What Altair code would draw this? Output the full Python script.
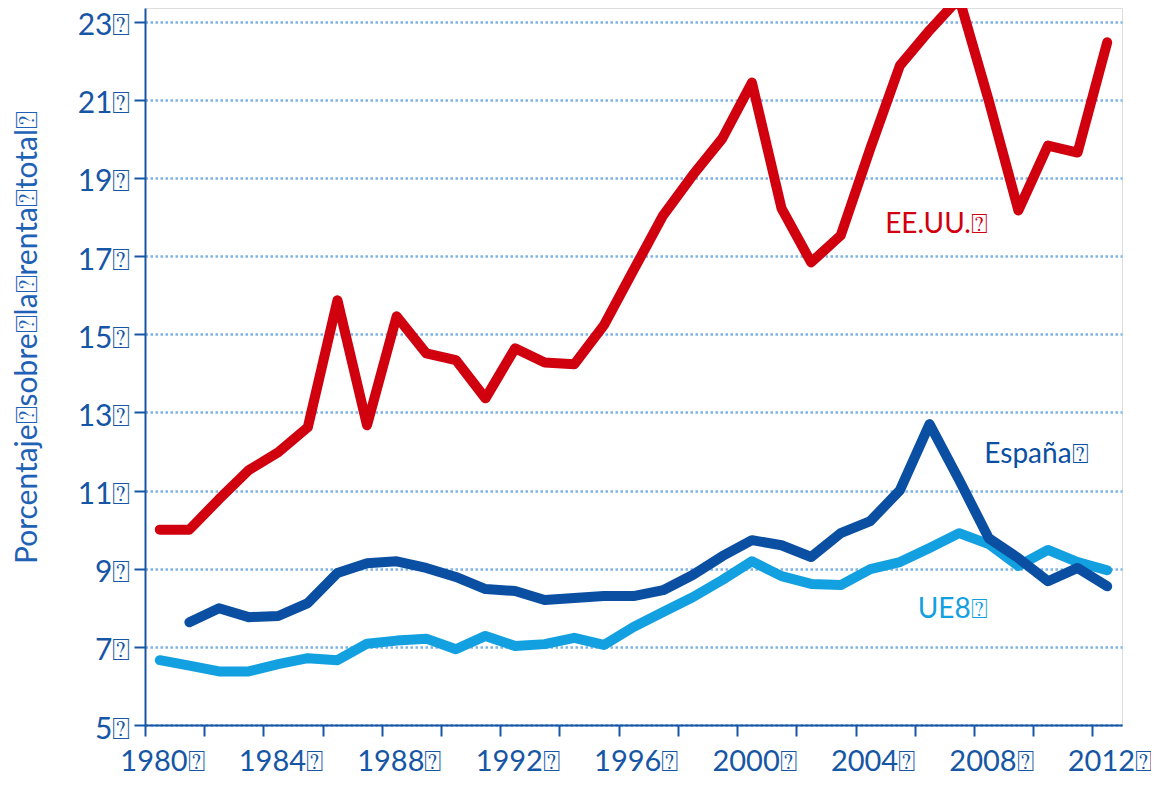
import altair as alt
import pandas as pd

years = list(range(1980, 2013))

eeuu = [10.0, 10.0, 10.78, 11.52, 11.98, 12.62, 15.87, 12.67, 15.46, 14.51,
        14.34, 13.36, 14.64, 14.28, 14.23, 15.23, 16.64, 18.04, 19.07, 20.01,
        21.44, 18.22, 16.84, 17.53, 19.76, 21.88, 22.78, 23.6, 20.98, 18.17,
        19.83, 19.65, 22.47]

espana_years = list(range(1981, 2013))
espana = [7.63, 7.99, 7.76, 7.79, 8.12, 8.89, 9.14, 9.19, 9.02,
          8.79, 8.48, 8.43, 8.20, 8.25, 8.30, 8.30, 8.45, 8.84, 9.32,
          9.73, 9.60, 9.30, 9.91, 10.22, 11.01, 12.70, 11.27, 9.78, 9.27,
          8.68, 9.02, 8.55]

ue8 = [6.66, 6.52, 6.37, 6.37, 6.56, 6.71, 6.66, 7.08, 7.16, 7.21,
       6.94, 7.28, 7.02, 7.07, 7.23, 7.05, 7.51, 7.89, 8.27, 8.71,
       9.19, 8.81, 8.61, 8.58, 8.99, 9.17, 9.53, 9.91, 9.63, 9.07,
       9.48, 9.17, 8.96]

series_names = ["UE8", "España", "EE.UU."]
series_colors = ["#12a0e0", "#0b4fa3", "#d0000f"]

label_text = ["UE8⍰", "España⍰", "EE.UU.⍰"]
label_x = [2005.6, 2007.85, 2004.5]
label_y = [7.94, 11.9, 17.8]

y_ticks = [5, 7, 9, 11, 13, 15, 17, 19, 21, 23]
x_bounds = [1979.5 + i for i in range(34)]

rows = []
for y, v in zip(years, ue8):
    rows.append({"year": y, "value": v, "serie": "UE8"})
for y, v in zip(espana_years, espana):
    rows.append({"year": y, "value": v, "serie": "España"})
for y, v in zip(years, eeuu):
    rows.append({"year": y, "value": v, "serie": "EE.UU."})
df = pd.DataFrame(rows)

labels_df = pd.DataFrame({"text": label_text, "year": label_x, "value": label_y,
                          "serie": series_names})

FONT = "Lato"
AXC = "#1656a5"

xscale = alt.Scale(domain=[1979.5, 2012.5], nice=False, zero=False)
yscale = alt.Scale(domain=[5, 23.35], nice=False, zero=False)
color = alt.Color("serie:N", scale=alt.Scale(domain=series_names, range=series_colors), legend=None)

def line_for(name):
    return alt.Chart(df).transform_filter(alt.datum.serie == name).mark_line(
        strokeWidth=10, strokeJoin="round", strokeCap="round", clip=True).encode(
        x=alt.X("year:Q", scale=xscale),
        y=alt.Y("value:Q", scale=yscale),
        color=color,
        order=alt.Order("year:Q"),
    )

axes = alt.Chart(df).mark_line(opacity=0).encode(
    x=alt.X("year:Q", scale=xscale,
            axis=alt.Axis(values=x_bounds, title=None, grid=False, tickSize=11,
                          labelExpr="(datum.value + 0.5) % 4 == 0 ? (datum.value + 0.5) + '⍰' : ''",
                          labelOffset=17, labelOverlap=False, labelFlush=False,
                          labelPadding=11, labelFontSize=29, labelFont=FONT,
                          labelColor=AXC, domainColor=AXC, tickColor=AXC,
                          domainWidth=2, tickWidth=2)),
    y=alt.Y("value:Q", scale=yscale,
            axis=alt.Axis(values=y_ticks, title="Porcentaje⍰sobre⍰la⍰renta⍰total⍰",
                          grid=True, gridColor="#7eb3e6", gridDash=[2.5, 2.5], gridWidth=2.5,
                          tickSize=11, labelExpr="datum.value + '⍰'",
                          labelFontSize=30, labelFont=FONT, labelColor=AXC,
                          labelPadding=4, labelOffset=4,
                          domainColor=AXC, tickColor=AXC, domainWidth=2, tickWidth=2,
                          titleFont=FONT, titleFontSize=30, titleFontWeight="normal",
                          titleColor="#1f62b5", titleX=-118, titleY=329,
                          titleAlign="center", titleBaseline="middle", titleAngle=-90)),
    detail="serie:N",
)

texts = alt.Chart(labels_df).mark_text(align="left", baseline="middle", fontSize=28, font=FONT).encode(
    x=alt.X("year:Q", scale=xscale),
    y=alt.Y("value:Q", scale=yscale),
    text="text:N",
    color=color,
)

chart = alt.layer(axes, line_for("UE8"), line_for("España"), line_for("EE.UU."), texts).properties(
    width=977, height=717,
    autosize=alt.AutoSizeParams(type="none"),
    padding={"left": 137, "top": 0, "right": 29, "bottom": 52},
).configure_view(stroke=None).configure(background="white")

chart.save("out.html", embed_options={"renderer": "svg", "actions": False})
